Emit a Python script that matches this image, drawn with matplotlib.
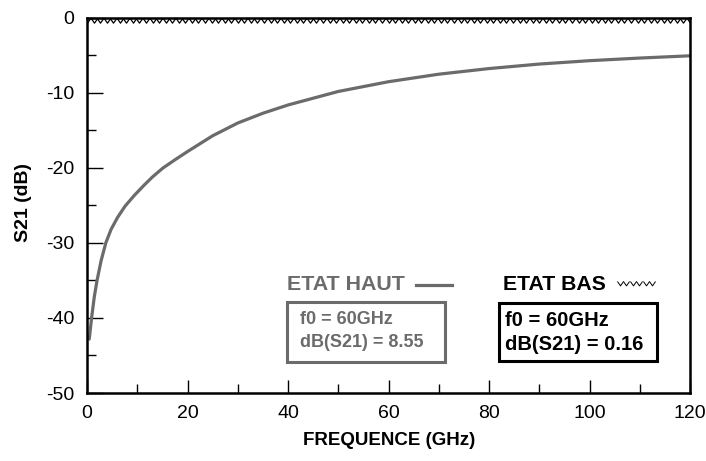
import matplotlib
matplotlib.use("Agg")
import matplotlib.pyplot as plt
import numpy as np
from matplotlib.path import Path
from matplotlib.patches import Rectangle
from matplotlib.lines import Line2D
from matplotlib.ticker import MultipleLocator

plt.rcParams['font.family'] = ['Liberation Sans', 'DejaVu Sans']
plt.rcParams['axes.unicode_minus'] = False

# ETAT HAUT curve
haut_freq = [0.25, 0.45, 0.95, 1.45, 2.0, 2.8, 3.75, 4.8, 6.1, 7.6, 9.4, 11.4, 13.0,
             15.1, 17.5, 20.0, 25.0, 30.0, 35.0, 40.0, 50.0, 60.0, 70.0, 80.0,
             90.0, 100.0, 110.0, 120.0]
haut_s21 = [-42.9, -42.8, -39.8, -37.2, -35.0, -32.4, -30.0, -28.2, -26.6, -25.1,
            -23.7, -22.3, -21.25, -20.05, -18.95, -17.85, -15.75, -14.05, -12.75,
            -11.65, -9.85, -8.55, -7.55, -6.8, -6.2, -5.75, -5.4, -5.1]

# ETAT BAS: flat at ~0 dB, sampled every ~1.3 GHz
bas_freq = np.linspace(0, 120, 93)
bas_s21 = np.zeros_like(bas_freq)

x_ticks = [0, 20, 40, 60, 80, 100, 120]
y_ticks = [-50, -40, -30, -20, -10, 0]

gray = '#6b6b6b'

W, H = 706, 461
fig = plt.figure(figsize=(W / 100, H / 100), dpi=100)
ax = fig.add_axes([87 / W, 1 - 393 / H, (690 - 87) / W, (393 - 17.5) / H])

def fx(px):
    return px / W

def fy(py):
    return 1 - py / H

# zigzag "v" marker, top of the v on the data point
vmark = Path([(-0.7, 0), (0, -1.0), (0.7, 0)], [Path.MOVETO, Path.LINETO, Path.LINETO])

ax.plot(haut_freq, haut_s21, color=gray, linewidth=2.3, solid_capstyle='butt')
ax.plot(bas_freq, bas_s21, linestyle='none', marker=vmark, markersize=6.7,
        markerfacecolor='none', markeredgecolor='black', markeredgewidth=0.9,
        zorder=3)

ax.set_xlim(0, 120)
ax.set_ylim(-50, 0)
ax.set_xticks(x_ticks)
ax.set_yticks(y_ticks)
ax.xaxis.set_minor_locator(MultipleLocator(10))
ax.yaxis.set_minor_locator(MultipleLocator(5))
ax.tick_params(axis='both', which='both', direction='in', width=1.0, color='black')
ax.tick_params(axis='y', which='major', length=11.5, pad=9, labelsize=14)
ax.tick_params(axis='y', which='minor', length=6.5)
ax.tick_params(axis='x', which='major', length=9.5, pad=9, labelsize=14)
ax.tick_params(axis='x', which='minor', length=6.5)
for sp in ax.spines.values():
    sp.set_linewidth(1.8)

fig.text(fx(389), fy(440), "FREQUENCE (GHz)", ha='center', va='center',
         fontsize=13.5, fontweight='bold')
fig.text(fx(24), fy(202), "S21 (dB)", ha='center', va='center', rotation=90,
         fontsize=14, fontweight='bold')

# legend-like annotations
fig.text(fx(287), fy(284), "ETAT HAUT", ha='left', va='center', fontsize=15.4,
         fontweight='bold', color=gray)
fig.add_artist(Line2D([fx(416), fx(452)], [fy(285), fy(285)], color=gray,
                      linewidth=2.3, transform=fig.transFigure))
fig.text(fx(503), fy(284), "ETAT BAS", ha='left', va='center', fontsize=15.3,
         fontweight='bold', color='black')
zx = np.linspace(fx(620), fx(652), 6)
fig.add_artist(Line2D(zx, [fy(281)] * len(zx), linestyle='none', marker=vmark,
                      markersize=6.3, markerfacecolor='none', markeredgecolor='black',
                      markeredgewidth=0.7, transform=fig.transFigure))

fig.add_artist(Rectangle((fx(287), fy(362)), fx(445) - fx(287), fy(302) - fy(362),
                         fill=False, edgecolor=gray, linewidth=2.2,
                         transform=fig.transFigure))
fig.text(fx(300), fy(320), "f0 = 60GHz", ha='left', va='center', fontsize=13,
         fontweight='bold', color=gray)
fig.text(fx(300), fy(342), "dB(S21) = 8.55", ha='left', va='center', fontsize=13,
         fontweight='bold', color=gray)

fig.add_artist(Rectangle((fx(499), fy(361)), fx(657) - fx(499), fy(303) - fy(361),
                         fill=False, edgecolor='black', linewidth=2.2,
                         transform=fig.transFigure))
fig.text(fx(505), fy(321), "f0 = 60GHz", ha='left', va='center', fontsize=14.5,
         fontweight='bold', color='black')
fig.text(fx(505), fy(344), "dB(S21) = 0.16", ha='left', va='center', fontsize=14.5,
         fontweight='bold', color='black')

fig.savefig("out.png", dpi=100)
